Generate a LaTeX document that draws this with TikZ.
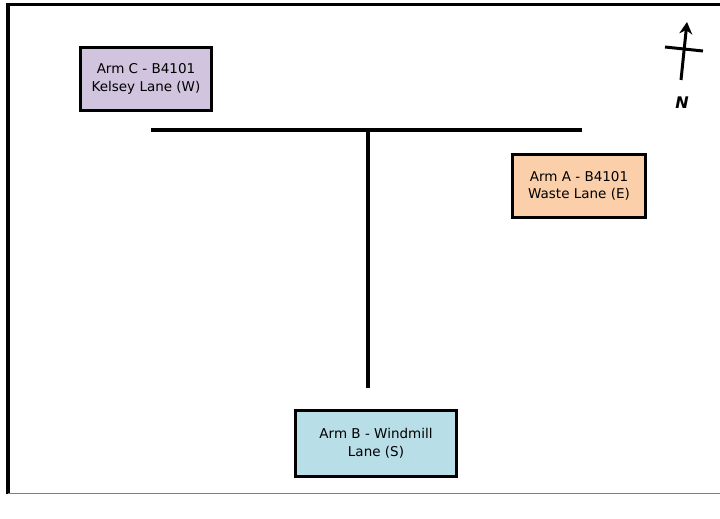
\documentclass[tikz,border=0pt]{standalone}
\usepackage{fontspec}
\setmainfont{DejaVu Sans}
\usetikzlibrary{arrows.meta}
\definecolor{armC}{RGB}{208,196,222}
\definecolor{armA}{RGB}{251,207,170}
\definecolor{armB}{RGB}{184,222,232}
\tikzset{
  arm/.style={draw, line width=3pt, align=center, inner sep=0pt, font=\fontsize{13.5}{17.5}\selectfont},
  road/.style={line width=3.2pt}
}

\begin{document}
\begin{tikzpicture}[x=1pt,y=-1pt]
\useasboundingbox (0,0) rectangle (720,519);
% frame
\draw[line width=3.2pt] (720,4.5) -- (8,4.5) -- (8,494);
\draw[gray, line width=1.5pt] (8,493.5) -- (720,493.5);

% roads
\coordinate (west end) at (151,130);
\coordinate (east end) at (582,130);
\coordinate (junction) at (368,130);
\coordinate (south end) at (368,388);
\draw[road] (west end) -- (east end);
\draw[road] (junction) -- (south end);

% arms
\node[arm, fill=armC, minimum width=131pt, minimum height=62pt] (arm c) at (146,79) {Arm C - B4101\\Kelsey Lane (W)};
\node[arm, fill=armA, minimum width=133pt, minimum height=63pt] (arm a) at (579,186) {Arm A - B4101\\Waste Lane (E)};
\node[arm, fill=armB, minimum width=161pt, minimum height=66pt] (arm b) at (376,443.5) {Arm B - Windmill\\Lane (S)};

% north arrow
\coordinate (n tail) at (681,80);
\coordinate (n head) at (687,22);
\draw[line width=3pt, -{Stealth[length=12pt,width=13pt]}] (n tail) -- (n head);
\draw[line width=3pt] (665,47) -- (703,51);
\node[font=\fontsize{16}{18}\selectfont\bfseries\itshape] (north) at (682,103) {N};
\end{tikzpicture}
\end{document}
